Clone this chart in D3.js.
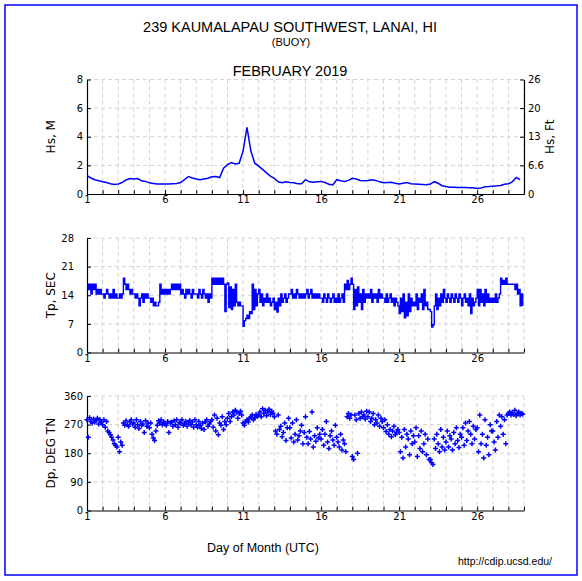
<!DOCTYPE html>
<html><head><meta charset="utf-8">
<script src="https://cdn.jsdelivr.net/npm/d3@7"></script>
<style>body{margin:0;background:#fff}svg{display:block}</style>
</head><body><svg id="c" width="582" height="581"></svg>
<script>
// ---- data ----
const titleMain = "239 KAUMALAPAU SOUTHWEST, LANAI, HI";
const titleSub = "(BUOY)";
const titleMonth = "FEBRUARY 2019";
const xLabelDays = [1, 6, 11, 16, 21, 26];
const hsTicks = [0, 2, 4, 6, 8];
const hsFtLabels = ["0", "6.6", "13", "20", "26"];
const tpTicks = [0, 7, 14, 21, 28];
const dpTicks = [0, 90, 180, 270, 360];

// significant wave height (m), 4 samples per day starting day 1.0
const hsValues = [
 1.29,1.12,1.00,0.92, 0.86,0.80,0.72,0.66, 0.70,0.80,0.98,1.08, 1.05,1.08,0.92,0.88,
 0.78,0.74,0.70,0.70, 0.69,0.70,0.72,0.74, 0.80,1.00,1.22,1.12, 1.05,1.00,1.05,1.10,
 1.20,1.22,1.15,1.80, 2.05,2.20,2.10,2.15, 3.00,4.65,3.00,2.15, 1.95,1.72,1.48,1.25,
 1.10,0.85,0.78,0.85, 0.80,0.78,0.72,0.72, 1.00,0.85,0.82,0.86, 0.88,0.80,0.68,0.64,
 1.00,0.92,0.88,0.95, 1.10,1.05,0.95,0.92, 0.95,1.00,0.95,0.85, 0.78,0.80,0.82,0.75,
 0.70,0.75,0.80,0.72, 0.70,0.68,0.66,0.64, 0.70,0.86,0.75,0.58, 0.52,0.48,0.47,0.46,
 0.45,0.45,0.44,0.43, 0.38,0.42,0.50,0.52, 0.55,0.57,0.60,0.68, 0.72,0.85,1.15,1.00
];
// peak period (s), 12 samples per day
const tpValues = [
 16.7,15.4,16.7,14.3,16.7,15.4,16.7,14.3,15.4,14.3,15.4,14.3,
 14.3,13.3,14.3,15.4,14.3,13.3,14.3,13.3,15.4,13.3,14.3,13.3,
 13.3,14.3,13.3,14.3,18.2,16.7,15.4,16.7,15.4,14.3,15.4,14.3,
 14.3,13.3,14.3,13.3,11.4,13.3,14.3,12.3,14.3,13.3,14.3,13.3,
 13.3,12.3,13.3,11.4,12.3,11.4,11.4,12.3,16.7,14.3,15.4,14.3,
 15.4,14.3,15.4,14.3,15.4,16.7,15.4,16.7,15.4,16.7,15.4,16.7,
 14.3,15.4,14.3,13.3,15.4,14.3,15.4,14.3,13.3,15.4,14.3,14.3,
 14.3,13.3,15.4,14.3,13.3,15.4,14.3,13.3,14.3,12.3,14.3,13.3,
 18.2,16.7,18.2,16.7,18.2,16.7,18.2,16.7,18.2,16.7,10.0,16.7,
 17.0,11.0,16.0,10.5,15.4,11.4,16.7,12.3,11.4,12.3,11.4,11.4,
 6.4,7.8,8.3,9.1,8.3,10.0,9.5,16.7,10.5,15.4,11.4,14.3,
 15.4,12.3,14.3,11.4,13.3,12.3,14.3,12.3,13.3,11.4,12.3,13.3,
 10.5,12.3,9.9,13.3,11.4,14.3,12.3,13.3,14.3,12.3,13.3,14.3,
 14.3,15.4,13.3,14.3,13.3,15.4,14.3,13.3,14.3,13.3,14.3,13.3,
 14.3,15.4,13.3,14.3,15.4,13.3,14.3,13.3,14.3,13.3,14.3,13.3,
 13.3,12.3,14.3,13.3,12.3,14.3,13.3,12.3,13.3,14.3,12.3,13.3,
 12.3,14.3,12.3,13.3,14.3,12.3,16.7,15.4,17.6,15.4,16.7,18.2,
 16.7,10.5,15.4,11.4,16.0,12.3,14.3,10.5,15.4,12.3,14.3,13.3,
 14.3,13.3,15.4,12.3,14.3,13.3,14.3,12.3,15.4,13.3,14.3,13.3,
 13.3,12.3,14.3,12.3,13.3,14.3,12.3,13.3,11.4,13.3,12.3,11.4,
 9.5,13.3,10.0,14.3,8.5,12.3,9.0,14.3,10.0,13.3,11.4,12.3,
 11.4,14.3,10.5,13.3,12.3,14.3,10.5,15.4,11.4,12.3,10.5,10.5,
 10.0,6.2,6.8,11.4,14.3,10.5,13.3,11.4,14.3,12.3,15.4,13.3,
 12.3,14.3,13.3,12.3,14.3,13.3,12.3,14.3,13.3,12.3,14.3,13.3,
 11.4,13.3,14.3,12.3,13.3,11.4,14.3,9.5,13.3,11.4,12.3,13.3,
 15.4,11.4,15.4,12.3,14.3,11.4,15.4,12.3,14.3,12.3,13.3,12.3,
 13.3,12.3,14.3,12.3,13.3,14.3,18.2,16.7,17.6,16.7,18.2,16.7,
 16.7,16.7,16.7,16.7,16.7,15.4,16.7,14.3,15.4,11.4,14.3,11.4
];
// peak direction (deg), 12 samples per day
const dpValues = [
 285,230,292,280,275,288,278,283,290,272,285,278,
 270,285,262,280,250,245,238,230,222,210,205,200,
 230,185,215,205,275,268,282,270,265,278,285,272,
 275,262,285,270,258,280,268,272,245,282,265,275,
 260,275,240,228,220,250,268,282,275,285,270,278,
 272,268,280,245,275,278,265,282,270,285,262,276,
 275,285,268,272,280,265,275,283,270,278,262,285,
 270,262,280,268,258,275,255,278,285,265,272,280,
 285,262,300,250,290,238,275,268,295,255,280,270,
 290,305,280,295,310,300,315,310,290,305,312,300,
 275,268,280,285,278,290,295,300,285,292,302,296,
 300,310,295,320,305,315,298,310,318,302,312,306,
 295,250,240,300,255,265,232,245,275,220,260,290,
 260,228,275,215,240,285,222,235,250,268,210,245,
 295,230,210,248,225,310,200,235,218,260,228,240,
 225,255,205,240,280,215,195,235,250,222,205,268,
 230,215,200,240,190,222,210,185,295,305,290,300,
 170,160,300,285,180,305,290,310,295,300,288,312,
 295,310,280,290,305,270,285,275,300,265,290,280,
 260,285,248,270,240,255,232,250,265,238,245,255,
 245,185,230,165,255,200,240,225,175,250,210,235,
 215,260,170,235,195,250,185,210,240,175,225,160,
 160,150,145,225,195,240,210,185,255,200,230,190,
 215,250,200,235,225,190,245,210,260,220,198,240,
 230,260,205,275,220,250,280,240,210,265,225,255,
 260,185,300,210,240,165,285,205,230,175,270,250,
 250,215,190,280,230,300,265,295,240,285,210,300,
 305,310,300,308,302,315,298,305,310,300,306,303
];

// ---- drawing ----
const svg = d3.select('#c');
const BLUE = '#0000ff';
const tickFont = 'DejaVu Sans, sans-serif';
const arial = 'Liberation Sans, Arial, sans-serif';

svg.append('rect').attr('x', 5).attr('y', 5).attr('width', 572).attr('height', 570)
  .attr('fill', 'none').attr('stroke', BLUE).attr('stroke-width', 1.5);

svg.append('text').attr('x', 290).attr('y', 31.5).attr('text-anchor', 'middle')
  .style('font-family', arial).style('font-size', '14.5px').text(titleMain);
svg.append('text').attr('x', 291).attr('y', 46).attr('text-anchor', 'middle')
  .style('font-family', arial).style('font-size', '11px').text(titleSub);
svg.append('text').attr('x', 290).attr('y', 76).attr('text-anchor', 'middle')
  .style('font-family', arial).style('font-size', '14.5px').text(titleMonth);
svg.append('text').attr('x', 263).attr('y', 552).attr('text-anchor', 'middle')
  .style('font-family', arial).style('font-size', '12.5px').text('Day of Month (UTC)');
svg.append('text').attr('x', 505).attr('y', 565).attr('text-anchor', 'middle')
  .style('font-family', arial).style('font-size', '10.5px').text('http://cdip.ucsd.edu/');

const x = d3.scaleLinear().domain([1, 29]).range([87, 524]);
const allDays = d3.range(1, 30);

function panel(top, bottom, maxV, ticks, label, labelRight, opts) {
  const y = d3.scaleLinear().domain([0, maxV]).range([bottom, top]);
  const g = svg.append('g');
  g.selectAll('.vg').data(allDays.slice(1)).enter().append('line')
    .attr('x1', d => x(d)).attr('x2', d => x(d)).attr('y1', top).attr('y2', bottom)
    .attr('stroke', '#d4d4d4').attr('stroke-dasharray', '4,3').attr('stroke-width', 1);
  g.selectAll('.hg').data(ticks.slice(1)).enter().append('line')
    .attr('x1', 87).attr('x2', 524).attr('y1', d => y(d)).attr('y2', d => y(d))
    .attr('stroke', '#d4d4d4').attr('stroke-dasharray', '4,3').attr('stroke-width', 1);
  const la = g.append('g').attr('transform', 'translate(87,0)')
    .call(d3.axisLeft(y).tickValues(ticks).tickSizeInner(-4).tickSizeOuter(0).tickPadding(4));
  la.selectAll('text').style('font-family', tickFont).style('font-size', '10px').attr('fill', '#000')
    .attr('x', d => d === 0 ? -4 : -(opts.labelGap || 4));
  la.select('.domain').attr('stroke', '#000').attr('stroke-width', 1.2);
  la.selectAll('.tick line').attr('stroke', '#000');
  const ba = g.append('g').attr('transform', `translate(0,${bottom})`)
    .call(d3.axisBottom(x).tickValues(allDays).tickSizeInner(-4).tickSizeOuter(0).tickPadding(2)
      .tickFormat(d => xLabelDays.includes(d) ? d : ''));
  ba.selectAll('text').style('font-family', tickFont).style('font-size', '10px').attr('fill', '#000');
  ba.select('.domain').attr('stroke', '#000').attr('stroke-width', 1.2);
  ba.selectAll('.tick line').attr('stroke', '#000');
  svg.append('text').attr('transform', `translate(55,${(top + bottom) / 2}) rotate(-90)`)
    .attr('text-anchor', 'middle').style('font-family', tickFont).style('font-size', '12px').text(label);
  if (labelRight) {
    const ra = g.append('g').attr('transform', 'translate(524,0)')
      .call(d3.axisRight(y).tickValues(ticks).tickSizeInner(-4).tickSizeOuter(0).tickPadding(4)
        .tickFormat((d, i) => labelRight.ticks[i]));
    ra.selectAll('text').style('font-family', tickFont).style('font-size', '10px').attr('fill', '#000');
    ra.select('.domain').attr('stroke', '#000').attr('stroke-width', 1.2);
    ra.selectAll('.tick line').attr('stroke', '#000');
    svg.append('text').attr('transform', `translate(554,${(top + bottom) / 2}) rotate(-90)`)
      .attr('text-anchor', 'middle').style('font-family', tickFont).style('font-size', '12px').text(labelRight.label);
  }
  return y;
}

// Hs
const yHs = panel(79.5, 194, 8, hsTicks, 'Hs, M', { ticks: hsFtLabels, label: 'Hs, Ft' }, {});
svg.append('path').datum(hsValues)
  .attr('d', d3.line().x((d, i) => x(1 + i / 4)).y(d => yHs(d)))
  .attr('fill', 'none').attr('stroke', BLUE).attr('stroke-width', 1.5);

// Tp
const yTp = panel(238, 352.5, 28, tpTicks, 'Tp, SEC', null, { labelGap: 13 });
svg.append('path').datum(tpValues)
  .attr('d', d3.line().curve(d3.curveStepAfter).x((d, i) => x(1 + i / 12)).y(d => yTp(d)))
  .attr('fill', 'none').attr('stroke', BLUE).attr('stroke-width', 1.4);

// Dp
const yDp = panel(396, 510.5, 360, dpTicks, 'Dp, DEG TN', null, {});
const cross = 2.5;
svg.append('g').selectAll('path').data(dpValues).enter().append('path')
  .attr('d', (d, i) => {
    const cx = x(1 + i / 12), cy = yDp(d);
    return `M${cx - cross},${cy}H${cx + cross}M${cx},${cy - cross}V${cy + cross}`;
  })
  .attr('stroke', BLUE).attr('stroke-width', 1.5).attr('fill', 'none');
</script>
</body></html>
